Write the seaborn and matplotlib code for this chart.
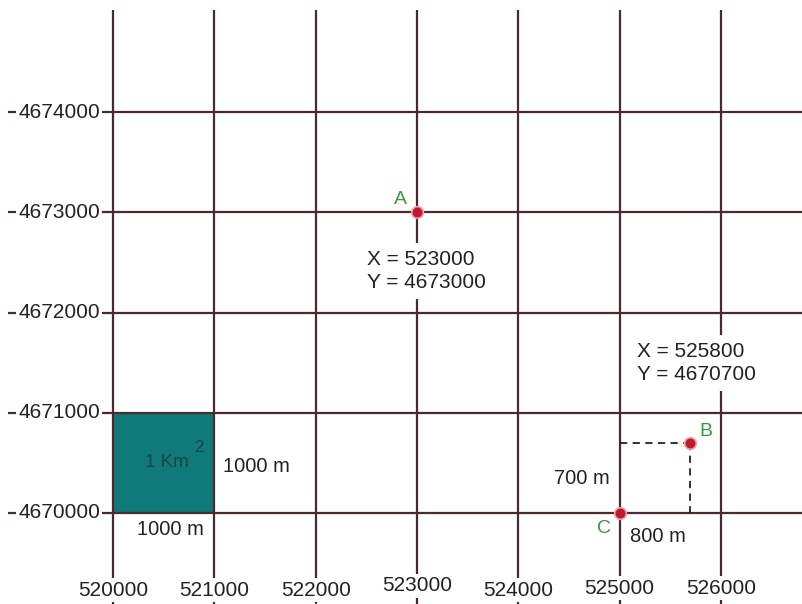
import matplotlib
matplotlib.use("Agg")
import matplotlib.pyplot as plt
import seaborn as sns
import pandas as pd

# grid values (UTM-like coordinates)
x_ticks = [520000, 521000, 522000, 523000, 524000, 525000, 526000]
y_ticks = [4670000, 4671000, 4672000, 4673000, 4674000]

# labelled points
pt_names = ["A", "B", "C"]
pt_x = [523000, 525700, 525000]
pt_y = [4673000, 4670700, 4670000]

# square km cell
square_x = [520000, 521000]
square_y = [4670000, 4671000]

sns.set_style("white")
plt.rcParams['font.family'] = ['Liberation Sans', 'DejaVu Sans']

W, H = 802, 604
fig = plt.figure(figsize=(W / 100, H / 100), dpi=100)
ax = fig.add_axes([0, 0, 1, 1])

# pixel scale of the original picture
sx = 101.3 / 1000
sy = 100.25 / 1000
x0_px, y0_px = 113, 513


def px(p):
    return 520000 + (p - x0_px) / sx


def py(p):
    return 4670000 + (y0_px - p) / sy


ax.set_xlim(px(0), px(W))
ax.set_ylim(py(H), py(0))
ax.axis("off")

grid_col = "#4b2a2e"
ax.vlines(x_ticks, py(H), py(10), color=grid_col, lw=1.6, zorder=1)
ax.hlines(y_ticks, px(8), px(W), color=grid_col, lw=1.6, zorder=1)

# teal 1 km^2 square
ax.fill_between(square_x, square_y[0], square_y[1], color="#0f7a79", zorder=0.5, lw=0)
ax.text(px(167), py(462), "1 Km", ha="center", va="center", fontsize=13.5, color="#1f4444", zorder=3)
ax.text(px(199), py(447), "2", ha="center", va="center", fontsize=12, color="#1f4444", zorder=3)

box = dict(facecolor="white", edgecolor="none", pad=1.5)
txt_col = "#222222"

# tick labels drawn as boxed text over the grid
for y in y_ticks:
    ax.text(px(100), y, str(y), ha="right", va="center", fontsize=15, color=txt_col, bbox=box, zorder=4)
x_lab_y = [590, 590, 590, 586, 590, 588, 588]
for x, ly in zip(x_ticks, x_lab_y):
    ax.text(x, py(ly), str(x), ha="center", va="center", fontsize=15, color=txt_col, bbox=box, zorder=4)

# dashed offsets from C to B
ax.plot([pt_x[2], pt_x[1]], [pt_y[1], pt_y[1]], ls=(0, (4, 3)), color="#222222", lw=1.3, zorder=2)
ax.plot([pt_x[1], pt_x[1]], [pt_y[1], pt_y[2]], ls=(0, (4, 3)), color="#222222", lw=1.3, zorder=2)

pts = pd.DataFrame({"name": pt_names, "x": pt_x, "y": pt_y})
sns.scatterplot(data=pts, x="x", y="y", ax=ax, s=70, color="#c01a2c", edgecolor="#f2a0a8",
                linewidth=1.2, zorder=5, legend=False)
ax.set_xlabel("")
ax.set_ylabel("")
ax.axis("off")

green = "#3a9a3a"
ax.text(px(400), py(199), "A", ha="center", va="center", fontsize=14, color=green, zorder=6)
ax.text(px(706), py(432), "B", ha="center", va="center", fontsize=14, color=green, zorder=6)
ax.text(px(604), py(528), "C", ha="center", va="center", fontsize=14, color=green, zorder=6)

ax.text(px(367), py(271), "X = 523000\nY = 4673000", ha="left", va="center", fontsize=15,
        color=txt_col, linespacing=1.25, bbox=dict(facecolor="white", edgecolor="none", pad=5), zorder=4)
ax.text(px(637), py(363), "X = 525800\nY = 4670700", ha="left", va="center", fontsize=15,
        color=txt_col, linespacing=1.25, bbox=dict(facecolor="white", edgecolor="none", pad=5), zorder=4)

ax.text(px(256), py(467), "1000 m", ha="center", va="center", fontsize=14.5, color=txt_col, zorder=4)
ax.text(px(170), py(530), "1000 m", ha="center", va="center", fontsize=14.5, color=txt_col, zorder=4)
ax.text(px(582), py(479), "700 m", ha="center", va="center", fontsize=14.5, color=txt_col, zorder=4)
ax.text(px(658), py(537), "800 m", ha="center", va="center", fontsize=14.5, color=txt_col, zorder=4)

fig.savefig("out.png", dpi=100)
